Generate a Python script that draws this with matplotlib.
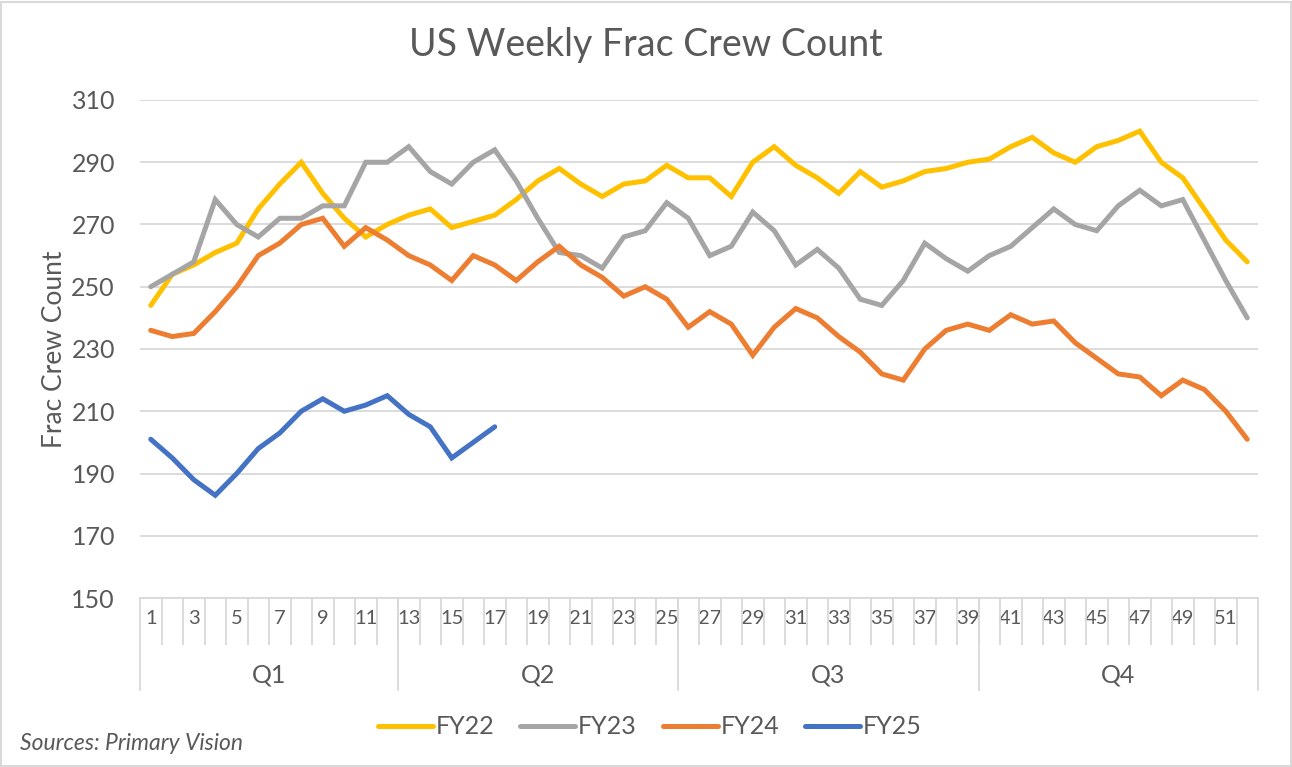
import matplotlib
matplotlib.use("Agg")
from matplotlib import pyplot as plt
from matplotlib.lines import Line2D
from matplotlib.patches import Rectangle
import matplotlib.transforms as mtransforms

weeks = list(range(1, 53))

fy22 = [244, 254, 257, 261, 264, 275, 283, 290, 280, 272, 266, 270, 273, 275, 269, 271, 273, 278,
        284, 288, 283, 279, 283, 284, 289, 285, 285, 279, 290, 295, 289, 285, 280, 287, 282, 284,
        287, 288, 290, 291, 295, 298, 293, 290, 295, 297, 300, 290, 285, 275, 265, 258]
fy23 = [250, 254, 258, 278, 270, 266, 272, 272, 276, 276, 290, 290, 295, 287, 283, 290, 294, 284,
        272, 261, 260, 256, 266, 268, 277, 272, 260, 263, 274, 268, 257, 262, 256, 246, 244, 252,
        264, 259, 255, 260, 263, 269, 275, 270, 268, 276, 281, 276, 278, 265, 252, 240]
fy24 = [236, 234, 235, 242, 250, 260, 264, 270, 272, 263, 269, 265, 260, 257, 252, 260, 257, 252,
        258, 263, 257, 253, 247, 250, 246, 237, 242, 238, 228, 237, 243, 240, 234, 229, 222, 220,
        230, 236, 238, 236, 241, 238, 239, 232, 227, 222, 221, 215, 220, 217, 210, 201]
fy25 = [201, 195, 188, 183, 190, 198, 203, 210, 214, 210, 212, 215, 209, 205, 195, 200, 205]

quarters = ["Q1", "Q2", "Q3", "Q4"]
quarter_edges = [0.5, 12.5, 25.5, 39.5, 52.5]

series = [("FY22", fy22, "#FFC000"), ("FY23", fy23, "#A5A5A5"),
          ("FY24", fy24, "#ED7D31"), ("FY25", fy25, "#4472C4")]

TXT = "#595959"
GRID = "#D9D9D9"
plt.rcParams["font.family"] = ["Lato", "DejaVu Sans"]

fig = plt.figure(figsize=(12.92, 7.67), dpi=100)
ax = fig.add_axes([140 / 1292, 1 - 598 / 767, 1118 / 1292, 498 / 767])

for name, vals, col in series:
    ax.plot(weeks[:len(vals)], vals, color=col, lw=3.6, label=name,
            solid_joinstyle="miter", solid_capstyle="round")

ax.set_xlim(0.5, 52.5)
ax.set_ylim(150, 310)
ax.set_yticks(range(150, 311, 20))
ax.grid(axis="y", color=GRID, lw=1.3)
ax.set_axisbelow(True)
for s in ["top", "right", "left"]:
    ax.spines[s].set_visible(False)
ax.spines["bottom"].set_color(GRID)
ax.spines["bottom"].set_linewidth(1.3)

# week numbers, every other one labelled, with a divider between weeks
ax.set_xticks(weeks)
ax.set_xticklabels([str(w) if w % 2 else "" for w in weeks])
ax.set_xticks([w + 0.5 for w in weeks[:-1]], minor=True)
ax.tick_params(axis="x", which="major", length=0, pad=9, labelsize=14.5, labelcolor=TXT)
ax.tick_params(axis="x", which="minor", length=34, width=1.3, color=GRID)
ax.tick_params(axis="y", length=0, pad=18, labelsize=18, labelcolor=TXT)

# quarter row below the weeks
trans = mtransforms.blended_transform_factory(ax.transData, ax.transAxes)
for e in quarter_edges:
    ax.add_line(Line2D([e, e], [0, -92 / 498], transform=trans, color=GRID,
                       lw=1.3, clip_on=False))
for q, a, b in zip(quarters, quarter_edges[:-1], quarter_edges[1:]):
    ax.text((a + b) / 2, -77 / 498, q, transform=trans, ha="center", va="center",
            fontsize=18, color=TXT)

ax.set_ylabel("Frac Crew Count", fontsize=19, color=TXT)
ax.yaxis.set_label_coords(-73 / 1118, 0.5)

fig.text(0.5, 1 - 45 / 767, "US Weekly Frac Crew Count", ha="center", va="center",
         fontsize=27, color=TXT)

fig.legend(loc="center", bbox_to_anchor=(0.503, 1 - 727 / 767), ncol=4, frameon=False,
           handlelength=2.2, handletextpad=0.1, columnspacing=1.05,
           labelcolor=TXT, prop={"size": 18})

fig.text(20 / 1292, 1 - 744 / 767, "Sources: Primary Vision", ha="left", va="center",
         fontsize=16.5, style="italic", color=TXT)

fig.patches.append(Rectangle((0.001, 0.001), 0.998, 0.997, transform=fig.transFigure,
                             fill=False, edgecolor=GRID, lw=1.5))

fig.savefig("out.png", dpi=100)
